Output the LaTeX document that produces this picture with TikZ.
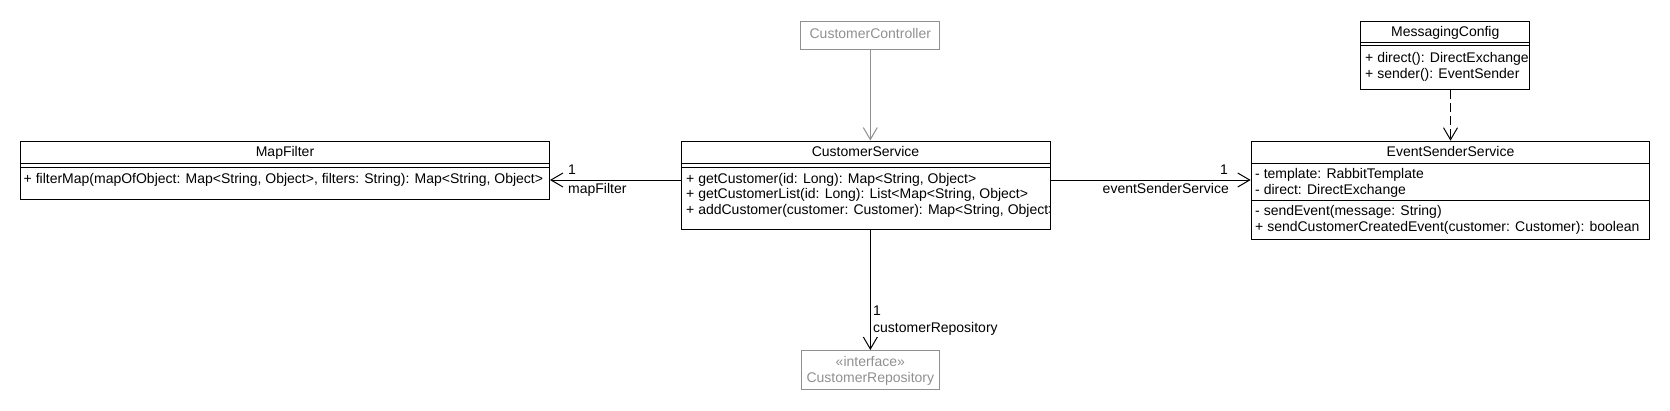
\documentclass[tikz,border=0pt]{standalone}
\usepackage[dvipsnames]{xcolor}
\usepackage{fontspec}
\setmainfont{Liberation Sans}
\usetikzlibrary{arrows.meta}
\newcommand{\corA}{black}
\newcommand{\corB}{Gray}
\newcommand{\fonte}{\fontsize{14}{16}\selectfont}

\tikzset{
  classe/.style={draw=#1, line width=1pt, anchor=north west, inner sep=0pt},
  classe/.default=\corA,
  rotulo/.style={inner sep=0pt, font=\fonte, text height=10pt, text depth=3pt},
  membro/.style={rotulo, anchor=west},
  divisa/.style={line width=1pt},
  seta/.style={line width=1pt, -{Straight Barb[length=12pt,width=14pt]}}
}

\begin{document}
\begin{tikzpicture}[x=1pt,y=-1pt]
  \useasboundingbox (0,0) rectangle (1670,410);

  % classe CustomerController
  \node[classe=\corB, minimum width=139pt, minimum height=28.3pt] (ctrl) at (800.3,20.7) {};
  \node[rotulo, text=\corB] (ctrlT) at (ctrl.center) {CustomerController};

  % classe MapFilter
  \node[classe, minimum width=529pt, minimum height=58.5pt] (mf) at (20,140.5) {};
  \node[rotulo] (mfT) at (mf.north |- 0,153) {MapFilter};
  \draw[divisa] (mf.west |- 0,163.3) -- (mf.east |- 0,163.3)
                (mf.west |- 0,167.7) -- (mf.east |- 0,167.7);
  \node[membro] (mfM1) at (23.5,180) {+ filterMap(mapOfObject: Map<String, Object>, filters: String): Map<String, Object>};

  % classe CustomerService
  \node[classe, minimum width=369pt, minimum height=88.5pt] (svc) at (680.5,140.5) {};
  \node[rotulo] (svcT) at (svc.north |- 0,153) {CustomerService};
  \draw[divisa] (svc.west |- 0,163.3) -- (svc.east |- 0,163.3)
                (svc.west |- 0,167.7) -- (svc.east |- 0,167.7);
  \begin{scope}
    \clip (svc.north west) rectangle (svc.south east);
    \node[membro] (svcM1) at (686,180) {+ getCustomer(id: Long): Map<String, Object>};
    \node[membro] (svcM2) at (686,195.3) {+ getCustomerList(id: Long): List<Map<String, Object>};
    \node[membro] (svcM3) at (686,210.6) {+ addCustomer(customer: Customer): Map<String, Object>};
  \end{scope}

  % classe EventSenderService
  \node[classe, minimum width=398.6pt, minimum height=98.6pt] (ess) at (1250.7,140.7) {};
  \node[rotulo] (essT) at (ess.north |- 0,153.3) {EventSenderService};
  \draw[divisa] (ess.west |- 0,163.3) -- (ess.east |- 0,163.3)
                (ess.west |- 0,200.7) -- (ess.east |- 0,200.7);
  \node[membro] (essA1) at (1255,175) {- template: RabbitTemplate};
  \node[membro] (essA2) at (1255,190.5) {- direct: DirectExchange};
  \node[membro] (essM1) at (1255,212) {- sendEvent(message: String)};
  \node[membro] (essM2) at (1255,228) {+ sendCustomerCreatedEvent(customer: Customer): boolean};

  % classe MessagingConfig
  \node[classe, minimum width=169pt, minimum height=68.6pt] (msg) at (1360.3,20.7) {};
  \node[rotulo] (msgT) at (msg.north |- 0,32.5) {MessagingConfig};
  \draw[divisa] (msg.west |- 0,42.3) -- (msg.east |- 0,42.3)
                (msg.west |- 0,45) -- (msg.east |- 0,45);
  \node[membro] (msgM1) at (1365,59.3) {+ direct(): DirectExchange};
  \node[membro] (msgM2) at (1365,75.3) {+ sender(): EventSender};

  % interface CustomerRepository
  \node[classe=\corB, minimum width=138.3pt, minimum height=39pt] (repo) at (800.7,350) {};
  \node[rotulo, text=\corB] (repoS) at (repo.north |- 0,363) {«interface»};
  \node[rotulo, text=\corB] (repoT) at (repo.north |- 0,379) {CustomerRepository};

  % associacoes
  \draw[seta, draw=\corB] (ctrl.south) -- (ctrl.south |- svc.north);

  \draw[seta] (svc.west |- 0,180) -- (mf.east |- 0,180);
  \node[membro] (mfN) at (568,171) {1};
  \node[membro] (mfR) at (568,190) {mapFilter};

  \draw[seta] (svc.east |- 0,180) -- (ess.west |- 0,180);
  \node[rotulo, anchor=east] (essN) at (1228,171) {1};
  \node[rotulo, anchor=east] (essR) at (1229,190) {eventSenderService};

  \draw[seta] (repo.north |- svc.south) -- (repo.north);
  \node[membro] (repoN) at (873,312) {1};
  \node[membro] (repoR) at (873,329) {customerRepository};

  % dependencia
  \draw[seta, dash pattern=on 9pt off 4pt] (ess.north |- msg.south) -- (ess.north);
\end{tikzpicture}
\end{document}
